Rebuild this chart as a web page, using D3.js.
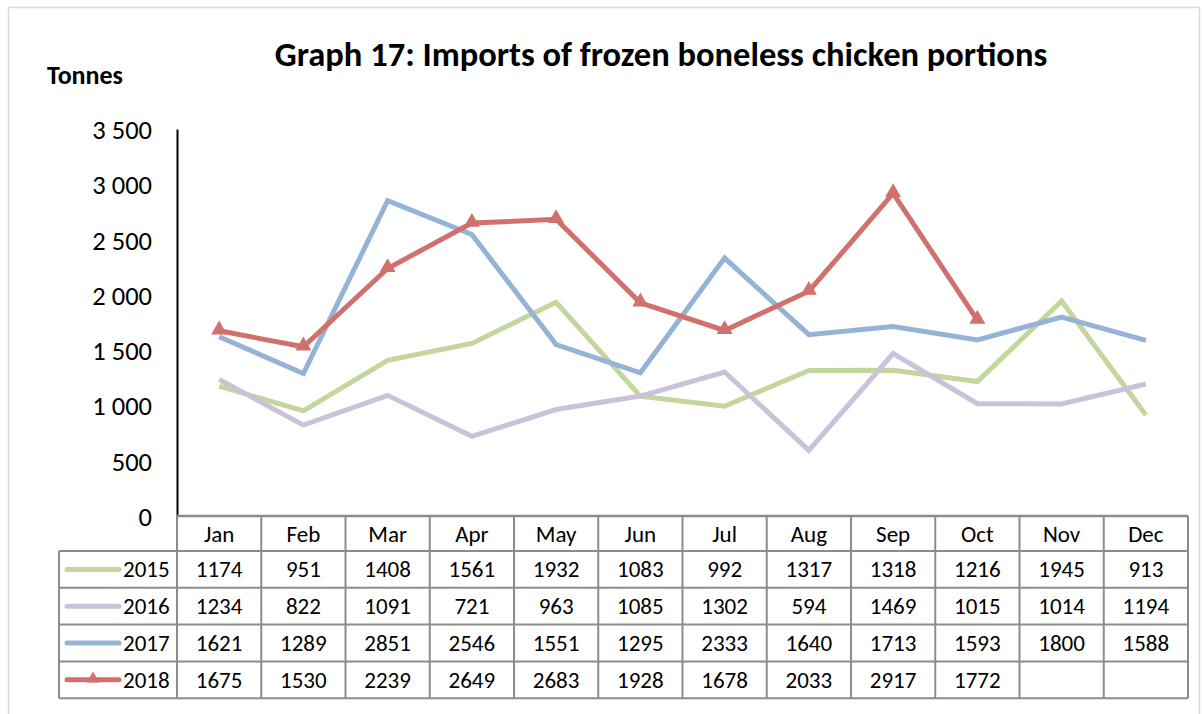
<!DOCTYPE html>
<html>
<head>
<meta charset="utf-8">
<script src="https://cdn.jsdelivr.net/npm/d3@7"></script>
<style>
  body { margin: 0; background: #fff; }
  svg { display: block; font-family: Carlito, Lato, "Open Sans", sans-serif; }
</style>
</head>
<body>
<svg id="chart"></svg>
<script>
// Data
const months = ["Jan", "Feb", "Mar", "Apr", "May", "Jun", "Jul", "Aug", "Sep", "Oct", "Nov", "Dec"];
const years = ["2015", "2016", "2017", "2018"];
const v2015 = [1174, 951, 1408, 1561, 1932, 1083, 992, 1317, 1318, 1216, 1945, 913];
const v2016 = [1234, 822, 1091, 721, 963, 1085, 1302, 594, 1469, 1015, 1014, 1194];
const v2017 = [1621, 1289, 2851, 2546, 1551, 1295, 2333, 1640, 1713, 1593, 1800, 1588];
const v2018 = [1675, 1530, 2239, 2649, 2683, 1928, 1678, 2033, 2917, 1772, null, null];
const yTicks = [0, 500, 1000, 1500, 2000, 2500, 3000, 3500];
const colors = ["#c3d69b", "#ccc1da", "#95b3d7", "#d0716e"];

const seriesValues = [v2015, v2016, v2017, v2018];
const width = 1202, height = 714;
const margin = { top: 129, left: 177, right: 14, bottom: 198 };

const svg = d3.select("#chart").attr("width", width).attr("height", height);

// outer frame
svg.append("rect")
  .attr("x", 8.5).attr("y", 7.5)
  .attr("width", 1191).attr("height", 720)
  .attr("fill", "none").attr("stroke", "#d9d9d9").attr("stroke-width", 1.5);

const x = d3.scaleBand().domain(months).range([margin.left, width - margin.right]);
const y = d3.scaleLinear().domain([0, 3500]).range([height - margin.bottom, margin.top]);
const fmt = d => d3.format(",")(d).replace(/,/g, " ");

// title and unit
svg.append("text")
  .attr("x", 661).attr("y", 66)
  .attr("text-anchor", "middle")
  .attr("font-size", 34.5).attr("font-weight", "bold")
  .text("Graph 17: Imports of frozen boneless chicken portions");

svg.append("text")
  .attr("x", 47).attr("y", 84)
  .attr("font-size", 26).attr("font-weight", "bold")
  .text("Tonnes");

// y axis
const yAxis = svg.append("g")
  .attr("transform", `translate(${margin.left},0)`)
  .call(d3.axisLeft(y).tickValues(yTicks).tickFormat(fmt).tickSize(0).tickPadding(25));
yAxis.select(".domain").attr("stroke", "#000").attr("stroke-width", 2);
yAxis.selectAll("text").attr("font-size", 26.5).attr("fill", "#000").attr("dy", "0.36em")
  .attr("font-family", "Carlito, Lato, 'Open Sans', sans-serif");

// data table
const y0 = y(0);
const headerH = 35;
const rowH = 36.8;
const tableLeft = 59;
const tableRight = width - margin.right;
const grid = "#8c8c8c";
const fs = 23;
const table = svg.append("g");

// header row: month labels
table.selectAll(".mh")
  .data(months)
  .join("text")
  .attr("x", d => x(d) + x.bandwidth() / 2)
  .attr("y", y0 + headerH / 2 + 8)
  .attr("text-anchor", "middle")
  .attr("font-size", fs)
  .text(d => d);

// horizontal lines
const hLines = [];
for (let i = 0; i <= years.length; i++) hLines.push(y0 + headerH + i * rowH);
table.selectAll(".hl")
  .data(hLines)
  .join("line")
  .attr("x1", tableLeft)
  .attr("x2", tableRight)
  .attr("y1", d => d).attr("y2", d => d)
  .attr("stroke", grid).attr("stroke-width", 2);

// top of header row
table.append("line")
  .attr("x1", margin.left).attr("x2", tableRight)
  .attr("y1", y0).attr("y2", y0)
  .attr("stroke", grid).attr("stroke-width", 2.5);

// vertical lines
const vLines = months.map(m => x(m)).concat([tableRight]);
table.selectAll(".vl")
  .data(vLines)
  .join("line")
  .attr("x1", d => d).attr("x2", d => d)
  .attr("y1", y0).attr("y2", hLines[hLines.length - 1])
  .attr("stroke", grid).attr("stroke-width", 2);
table.append("line")
  .attr("x1", tableLeft).attr("x2", tableLeft)
  .attr("y1", hLines[0]).attr("y2", hLines[hLines.length - 1])
  .attr("stroke", grid).attr("stroke-width", 2);

// value cells and legend keys
years.forEach((yr, si) => {
  const cy = hLines[si] + rowH / 2;
  const row = table.append("g");
  row.selectAll("text")
    .data(seriesValues[si])
    .join("text")
    .attr("x", (d, i) => x(months[i]) + x.bandwidth() / 2)
    .attr("y", cy + 8)
    .attr("text-anchor", "middle")
    .attr("font-size", fs)
    .text(d => d == null ? "" : d);

  row.append("line")
    .attr("x1", 67).attr("x2", 119)
    .attr("y1", cy).attr("y2", cy)
    .attr("stroke", colors[si]).attr("stroke-width", 5)
    .attr("stroke-linecap", "round");
  if (si === 3) {
    row.append("path")
      .attr("d", d3.symbol(d3.symbolTriangle, 70)())
      .attr("transform", `translate(93,${cy - 1})`)
      .attr("fill", colors[si]);
  }
  row.append("text")
    .attr("x", 123).attr("y", cy + 8)
    .attr("font-size", fs)
    .text(yr);
});

// lines
const line = d3.line()
  .defined(d => d != null)
  .x((d, i) => x(months[i]) + x.bandwidth() / 2)
  .y(d => y(d));

const plot = svg.append("g");
seriesValues.forEach((vals, si) => {
  plot.append("path")
    .datum(vals)
    .attr("d", line)
    .attr("fill", "none")
    .attr("stroke", colors[si])
    .attr("stroke-width", 5)
    .attr("stroke-linejoin", "miter");
});

// triangle markers for 2018
plot.selectAll(".mk")
  .data(v2018.map((v, i) => ({ v, i })).filter(d => d.v != null))
  .join("path")
  .attr("d", d3.symbol(d3.symbolTriangle, 110)())
  .attr("transform", d => `translate(${x(months[d.i]) + x.bandwidth() / 2},${y(d.v) - 1})`)
  .attr("fill", colors[3]);
</script>
</body>
</html>
